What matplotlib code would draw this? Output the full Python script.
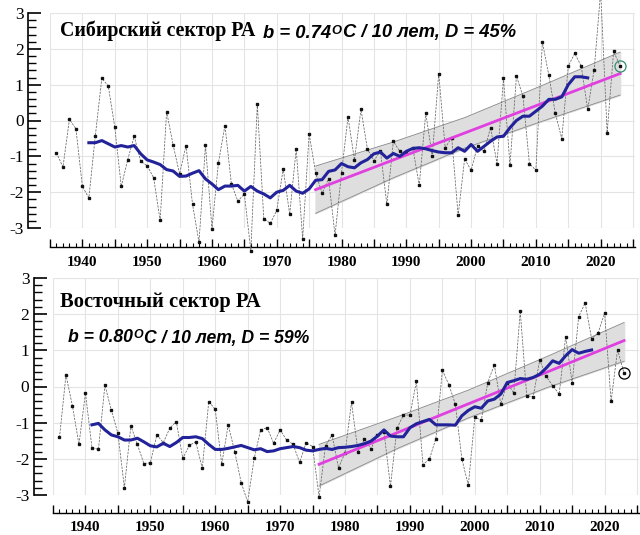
import numpy as np
import matplotlib
matplotlib.use("Agg")
import matplotlib.pyplot as plt
from matplotlib.ticker import MultipleLocator, FuncFormatter
from matplotlib.offsetbox import TextArea, HPacker, AnnotationBbox

plt.rcParams['axes.unicode_minus'] = False

years = np.arange(1936, 2024)
ma_years = np.arange(1941, 2019)

# Сибирский сектор
sib_anom = [-0.90, -1.30, 0.03, -0.23, -1.84, -2.16, -0.42, 1.18, 0.96, -0.19,
            -1.84, -1.09, -0.44, -1.14, -1.26, -1.60, -2.79, 0.25, -0.68, -1.49,
            -0.70, -2.34, -3.40, -0.68, -3.02, -1.18, -0.14, -1.77, -2.25, -2.05,
            -3.63, 0.46, -2.74, -2.87, -2.51, -1.35, -2.62, -0.79, -3.30, -0.37,
            -1.46, -2.03, -1.63, -3.20, -1.46, 0.10, -1.10, 0.31, -0.80, -1.12,
            -0.86, -2.34, -0.58, -0.86, -0.90, -0.76, -1.81, 0.21, -1.00, 1.31,
            -0.76, -0.48, -2.65, -1.07, -1.39, -0.70, -0.86, -0.20, -1.20, 1.18,
            -1.25, 1.24, 0.68, -1.20, -1.39, 2.19, 1.26, 0.20, -0.51, 1.52,
            1.87, 1.52, 0.31, 1.42, 3.60, -0.34, 1.93, 1.52]
sib_ma = [-0.62, -0.62, -0.56, -0.65, -0.74, -0.70, -0.74, -0.70, -0.93, -1.10,
          -1.16, -1.23, -1.37, -1.41, -1.56, -1.55, -1.47, -1.40, -1.63, -1.77,
          -1.93, -1.83, -1.83, -1.81, -1.97, -1.84, -1.97, -2.05, -2.16, -2.00,
          -1.95, -1.81, -1.97, -2.03, -1.91, -1.67, -1.65, -1.42, -1.38, -1.20,
          -1.29, -1.32, -1.18, -1.09, -0.93, -0.88, -1.05, -0.92, -1.00, -0.86,
          -0.78, -0.76, -0.79, -0.84, -0.88, -0.90, -0.90, -0.76, -0.86, -0.67,
          -0.86, -0.72, -0.58, -0.46, -0.44, -0.20, 0.00, 0.12, 0.12, 0.26,
          0.40, 0.59, 0.59, 0.66, 1.00, 1.22, 1.22, 1.19]

# Восточный сектор
vost_anom = [-1.41, 0.32, -0.54, -1.60, -0.18, -1.69, -1.74, 0.04, -0.66, -1.29,
             -2.80, -1.09, -1.60, -2.13, -2.11, -1.34, -1.55, -1.15, -0.97, -1.99,
             -1.63, -1.53, -2.26, -0.42, -0.63, -2.15, -1.06, -1.80, -2.66, -3.19,
             -1.99, -1.20, -1.14, -1.57, -1.20, -1.48, -1.60, -2.10, -1.55, -1.66,
             -3.05, -1.64, -1.34, -2.25, -1.83, -0.44, -1.80, -1.46, -1.72, -1.34,
             -1.25, -2.76, -1.16, -0.79, -0.79, 0.14, -2.16, -2.01, -1.44, 0.45,
             0.05, -0.49, -2.00, -2.73, -0.85, -0.93, 0.11, 0.60, -0.49, 0.11,
             -0.19, 2.08, -0.26, -0.28, 0.73, 0.28, 0.02, -0.21, 1.38, 0.10,
             1.93, 2.31, 1.32, 1.48, 2.03, -0.41, 1.02, 0.36]
vost_ma = [-1.06, -1.02, -1.20, -1.34, -1.39, -1.48, -1.48, -1.43, -1.53, -1.64,
           -1.67, -1.57, -1.66, -1.55, -1.41, -1.41, -1.39, -1.44, -1.60, -1.74,
           -1.74, -1.71, -1.67, -1.63, -1.69, -1.75, -1.72, -1.80, -1.78, -1.72,
           -1.69, -1.66, -1.69, -1.76, -1.78, -1.74, -1.71, -1.74, -1.69, -1.68,
           -1.66, -1.63, -1.58, -1.51, -1.37, -1.20, -1.37, -1.39, -1.39, -1.14,
           -1.03, -0.97, -0.91, -1.06, -1.06, -1.06, -1.07, -0.81, -0.66, -0.56,
           -0.60, -0.40, -0.35, -0.21, 0.11, 0.16, 0.22, 0.20, 0.25, 0.34,
           0.51, 0.71, 0.64, 0.85, 1.02, 0.92, 0.97, 1.01]

# trend + confidence band (read at a few years)
band_years = [1976, 1988, 1999, 2011, 2023]
sib_trend = [-1.93, -1.10, -0.35, 0.48, 1.31]
sib_upper = [-1.27, -0.60, 0.08, 0.98, 1.91]
sib_lower = [-2.59, -1.60, -0.77, -0.02, 0.71]
vost_trend = [-2.15, -1.28, -0.48, 0.39, 1.27]
vost_upper = [-1.60, -0.84, -0.10, 0.82, 1.77]
vost_lower = [-2.75, -1.72, -0.87, -0.04, 0.70]

W, H = 640, 535
fig = plt.figure(figsize=(W / 100, H / 100), dpi=100)


def px_axes(left, top, right, bottom):
    return fig.add_axes([left / W, 1 - bottom / H, (right - left) / W, (bottom - top) / H])


def draw_panel(ax, anom, ma, trend, upper, lower, circ_col, spine_out, xspine_out):
    ax.set_xlim(1935, 2025.3)
    ax.set_ylim(-3, 3)
    for s in ['top', 'right']:
        ax.spines[s].set_visible(False)
    ax.spines['left'].set_position(('outward', spine_out))
    ax.spines['left'].set_bounds(-3, 3)
    ax.spines['bottom'].set_position(('outward', xspine_out))
    ax.spines['left'].set_linewidth(1.2)
    ax.spines['bottom'].set_linewidth(1.0)

    # grid
    ax.vlines(np.arange(1935, 2026, 5), -3, 3, color='#e4e4e4', lw=0.8, zorder=0)
    ax.hlines(np.arange(-3, 4, 1), 1935, 2025.3, color='#e4e4e4', lw=0.8, zorder=0)

    ax.fill_between(band_years, lower, upper, color='#dedede', zorder=1)
    ax.plot(band_years, upper, color='#8a8a8a', lw=0.6, zorder=1)
    ax.plot(band_years, lower, color='#8a8a8a', lw=0.6, zorder=1)

    ax.plot(years, anom, color='#666666', lw=0.55, ls=(0, (3, 1.5)),
            marker='s', ms=1.6, mfc='#111111', mec='#111111', zorder=3, clip_on=False)
    ax.plot(band_years, trend, color='#e040e0', lw=2, zorder=4)
    ax.plot(ma_years, ma, color='#22229a', lw=2.2, zorder=5)
    ax.plot(years[-1], anom[-1], 'o', mfc='none', mec=circ_col, ms=8, mew=0.9,
            zorder=6, clip_on=False)

    ax.xaxis.set_major_locator(MultipleLocator(5))
    ax.xaxis.set_minor_locator(MultipleLocator(1))
    ax.xaxis.set_major_formatter(FuncFormatter(lambda v, p: f"{int(v)}" if int(round(v)) % 10 == 0 else ""))
    ax.yaxis.set_major_locator(MultipleLocator(1))
    ax.yaxis.set_minor_locator(MultipleLocator(0.2))
    ax.tick_params(axis='x', which='major', direction='in', length=6, width=1, pad=6)
    ax.tick_params(axis='x', which='minor', direction='in', length=3, width=0.8)
    ax.tick_params(axis='y', which='major', direction='in', length=9.5, width=1.2, pad=3)
    ax.tick_params(axis='y', which='minor', direction='in', length=6, width=1.0)
    for lab in ax.get_xticklabels():
        lab.set_fontfamily('Liberation Serif')
        lab.set_fontweight('bold')
        lab.set_fontsize(11)
    for lab in ax.get_yticklabels():
        lab.set_fontfamily('Liberation Serif')
        lab.set_fontsize(12.5)


def trend_label(x, y, b, d, size):
    fp = dict(family='Liberation Sans', weight='bold', style='italic', size=size)
    t1 = TextArea(f"b = {b}", textprops=fp)
    t2 = TextArea("O", textprops=dict(fp, size=size * 0.7))
    t3 = TextArea(f"C / 10 лет, D = {d}%", textprops=fp)
    box = HPacker(children=[t1, t2, t3], align='top', pad=0, sep=0.5)
    ab = AnnotationBbox(box, (x / W, 1 - y / H), xycoords='figure fraction',
                        box_alignment=(0, 0.5), frameon=False, pad=0)
    fig.add_artist(ab)


ax1 = px_axes(50, 13, 635, 228)
draw_panel(ax1, sib_anom, sib_ma, sib_trend, sib_upper, sib_lower, '#2f8f6f', 16, 14)
ax2 = px_axes(53, 278, 639, 495)
draw_panel(ax2, vost_anom, vost_ma, vost_trend, vost_upper, vost_lower, 'black', 14, 13)

fig.text(60 / W, 1 - 31 / H, "Сибирский сектор РА", family='Liberation Serif',
         weight='bold', fontsize=14.3, va='center')
trend_label(263, 33, "0.74", 45, 13.2)
fig.text(60 / W, 1 - 302 / H, "Восточный сектор РА", family='Liberation Serif',
         weight='bold', fontsize=14.8, va='center')
trend_label(68, 338, "0.80", 59, 12.7)

fig.savefig("out.png", dpi=100)
